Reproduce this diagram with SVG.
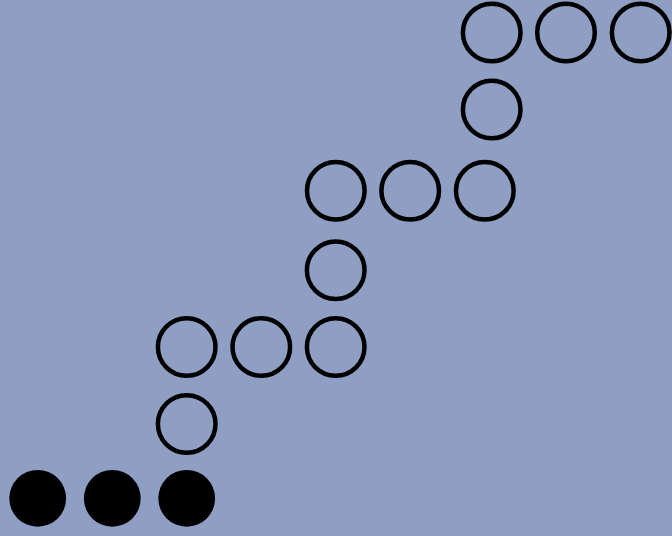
<svg xmlns="http://www.w3.org/2000/svg" width="672" height="536" viewBox="0 0 672 536">
<style>
.f{fill:#000;stroke:none}
.o{fill:none;stroke:#000;stroke-width:4.5}
</style>
<rect width="672" height="536" fill="#8f9fc3"/>
<g id="filled">
<circle class="f" cx="37.7" cy="498.3" r="28.4"/>
<circle class="f" cx="112.3" cy="498.3" r="28.4"/>
<circle class="f" cx="186.7" cy="498.3" r="28.4"/>
</g>
<g id="open">
<circle class="o" cx="186.7" cy="424" r="28.8"/>
<circle class="o" cx="186.7" cy="347" r="28.8"/>
<circle class="o" cx="261.3" cy="347" r="28.8"/>
<circle class="o" cx="335.7" cy="347" r="28.8"/>
<circle class="o" cx="335.7" cy="270.2" r="28.8"/>
<circle class="o" cx="335.8" cy="190.8" r="28.8"/>
<circle class="o" cx="410.2" cy="190.8" r="28.8"/>
<circle class="o" cx="484.8" cy="190.8" r="28.8"/>
<circle class="o" cx="491.7" cy="109.5" r="28.8"/>
<circle class="o" cx="491.7" cy="32.5" r="28.8"/>
<circle class="o" cx="566" cy="32.5" r="28.8"/>
<circle class="o" cx="640.7" cy="32.5" r="28.8"/>
</g>
</svg>
